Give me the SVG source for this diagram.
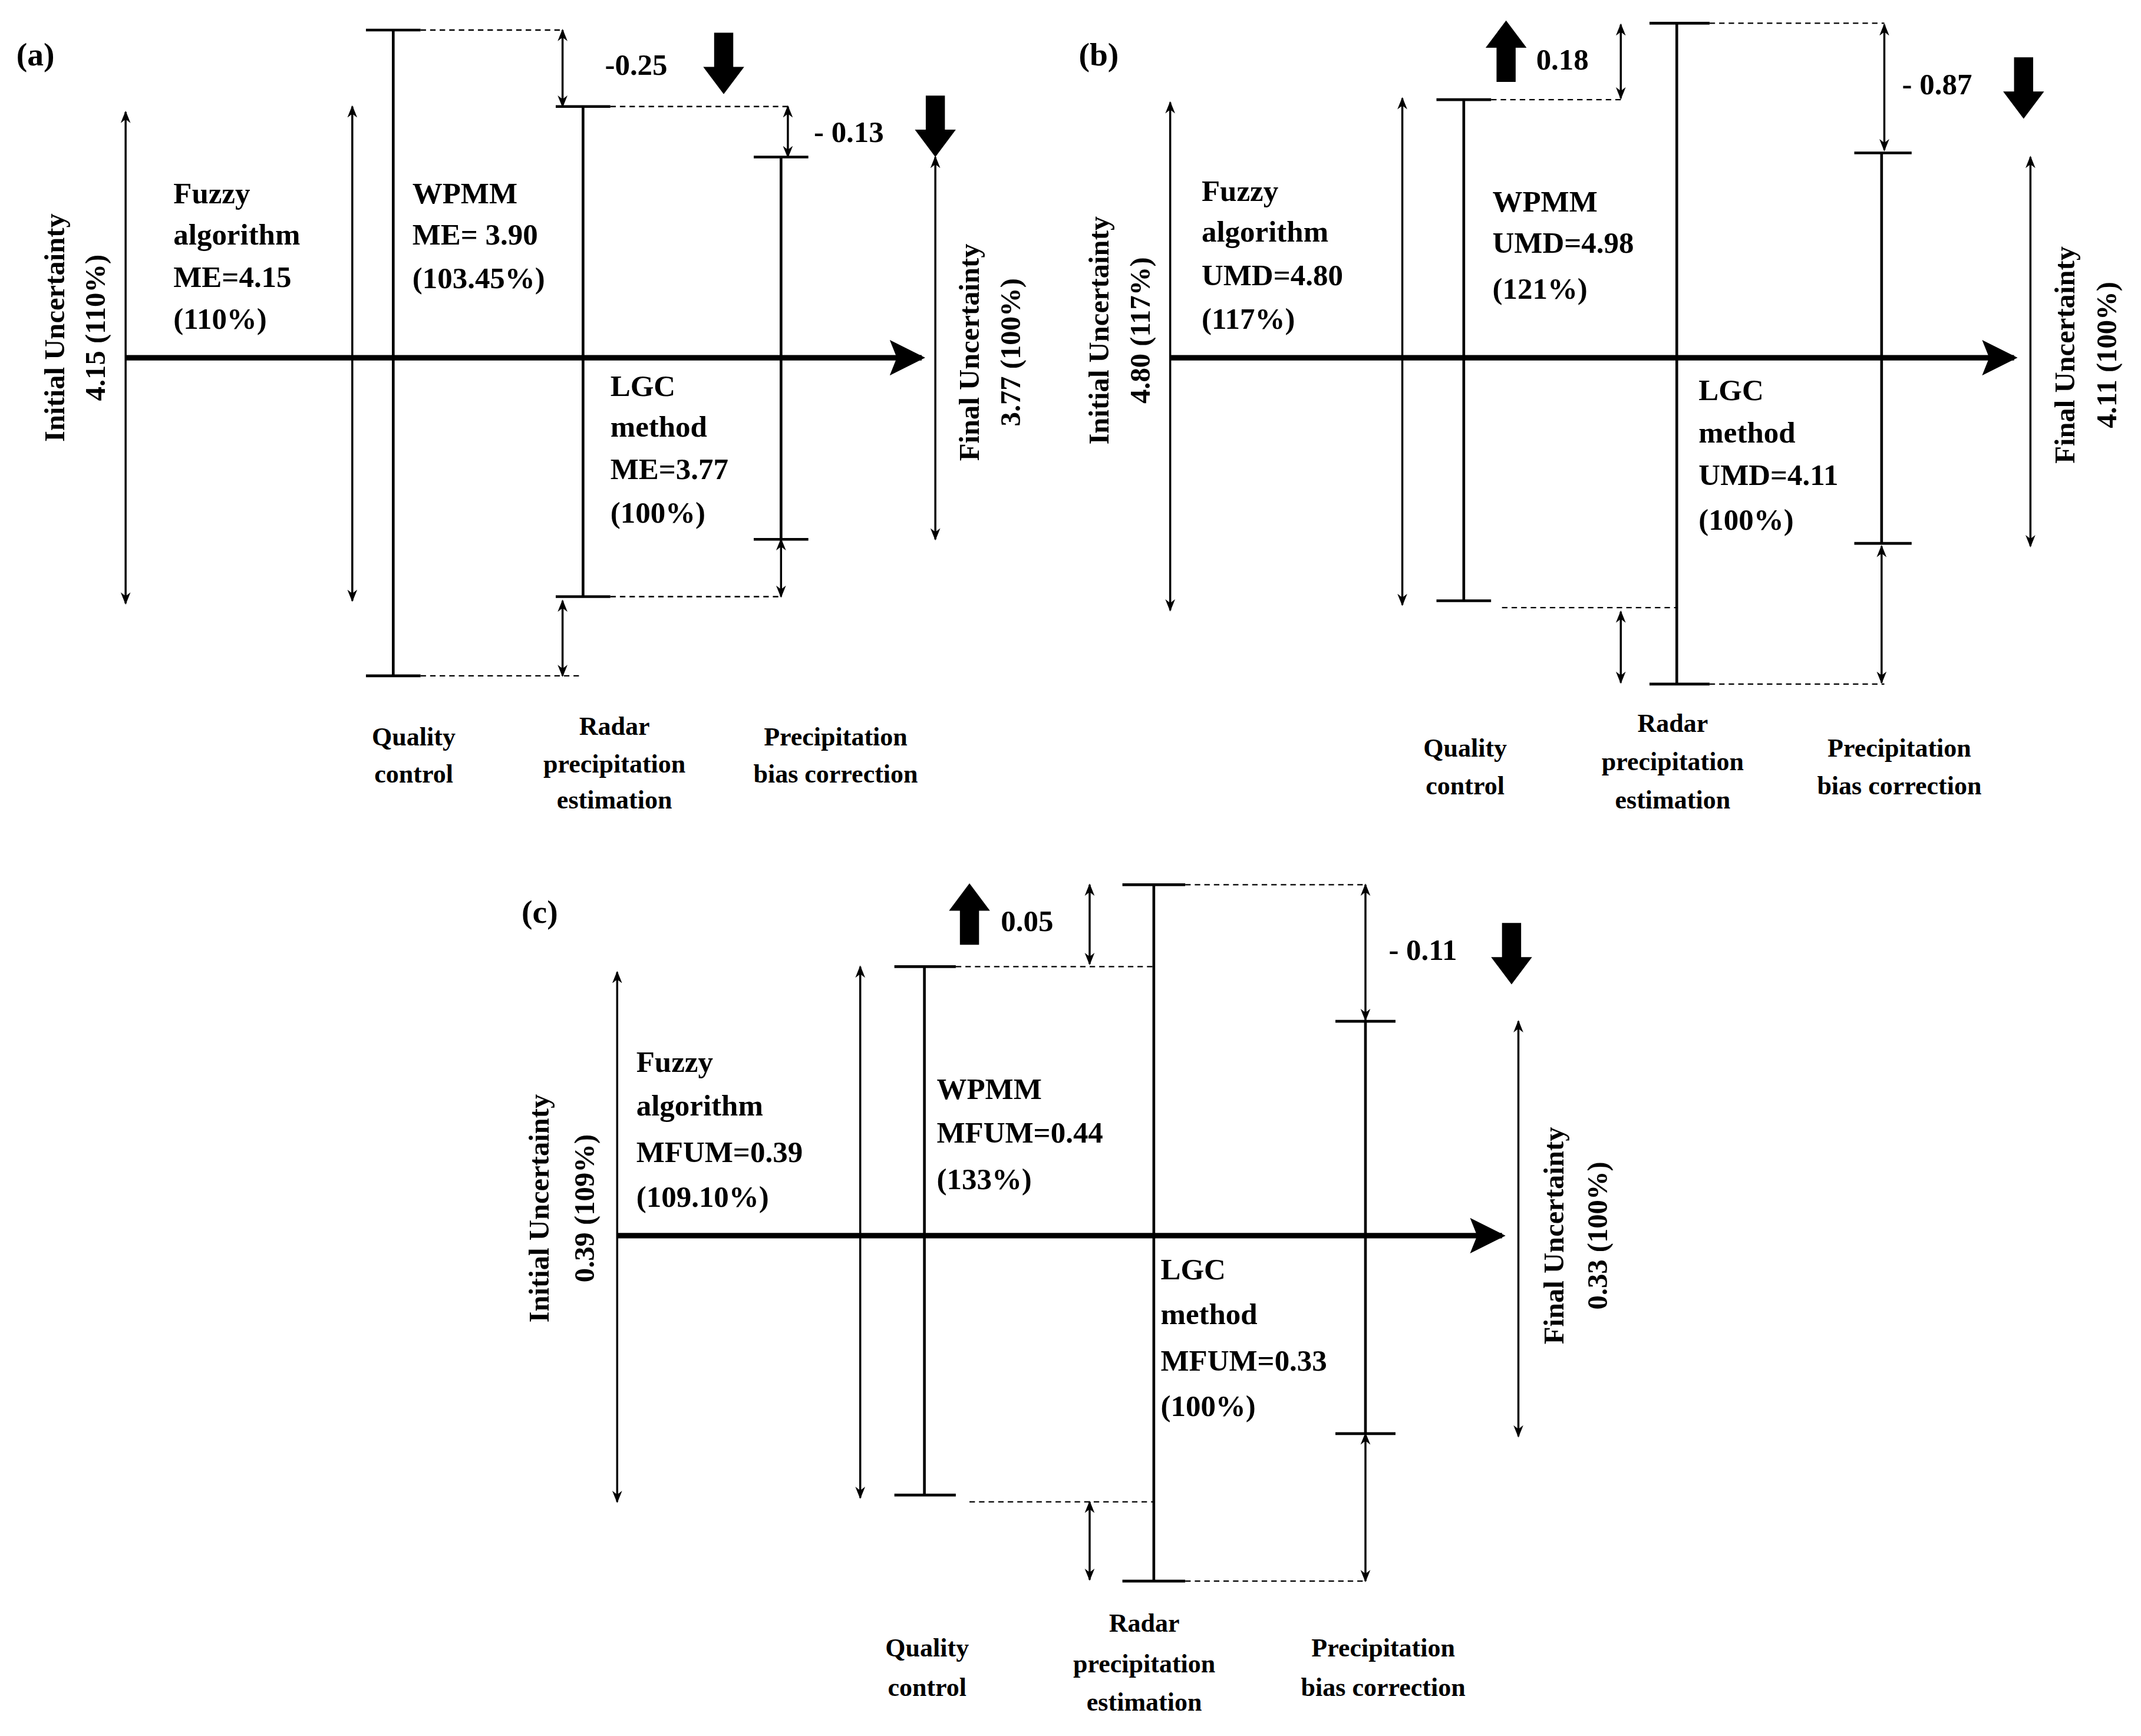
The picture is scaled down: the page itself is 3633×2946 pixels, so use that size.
<svg xmlns="http://www.w3.org/2000/svg" width="3633" height="2946" viewBox="0 0 3633 2946">
<style>
text{font-family:"Liberation Serif","Times New Roman",serif;font-weight:bold;fill:#000}
.t{font-size:22px}
.s{font-size:19px;text-anchor:middle}
.r{font-size:21px;text-anchor:middle}
.p{font-size:24px}
.bar{stroke:#000;stroke-width:2;fill:none}
.da{stroke:#000;stroke-width:1.5;fill:none;marker-start:url(#ah);marker-end:url(#ah)}
.dash{stroke:#000;stroke-width:1;stroke-dasharray:4,3;fill:none}
.main{stroke:#000;stroke-width:4;fill:none;marker-end:url(#big)}
</style>
<defs>
<marker id="ah" viewBox="0 0 10 10" refX="9" refY="5" markerWidth="9" markerHeight="9" markerUnits="userSpaceOnUse" orient="auto-start-reverse"><path d="M0,1 L10,5 L0,9 L3,5 Z" fill="#000"/></marker>
<marker id="big" viewBox="0 0 10 10" refX="9" refY="5" markerWidth="26" markerHeight="26" markerUnits="userSpaceOnUse" orient="auto"><path d="M0,0 L10,5 L0,10 L2,5 Z" fill="#000"/></marker>
<polygon id="down" points="-7,0 7,0 7,25 15,25 0,45 -15,25 -7,25" fill="#000"/>
</defs>
<rect width="3633" height="2946" fill="#fff"/>
<g transform="scale(2.317)">
<g id="connectors">
<!-- panel a -->
<line class="da" x1="92" y1="82" x2="92" y2="442"/>
<line class="main" x1="92" y1="262" x2="675" y2="262"/>
<line class="da" x1="258" y1="78" x2="258" y2="440"/>
<line class="da" x1="412" y1="22" x2="412" y2="78"/>
<line class="da" x1="412" y1="440" x2="412" y2="495"/>
<line class="da" x1="577" y1="78" x2="577" y2="115"/>
<line class="da" x1="572" y1="395" x2="572" y2="437"/>
<line class="da" x1="685" y1="115" x2="685" y2="395"/>
<path class="dash" d="M308,22H412M308,495H425M447,78H578M447,437H570"/>
<!-- panel b -->
<line class="da" x1="857" y1="75" x2="857" y2="447"/>
<line class="main" x1="857" y1="262" x2="1475" y2="262"/>
<line class="da" x1="1027" y1="72" x2="1027" y2="443"/>
<line class="da" x1="1187" y1="18" x2="1187" y2="72"/>
<line class="da" x1="1187" y1="448" x2="1187" y2="500"/>
<line class="da" x1="1380" y1="18" x2="1380" y2="110"/>
<line class="da" x1="1378" y1="400" x2="1378" y2="500"/>
<line class="da" x1="1487" y1="115" x2="1487" y2="400"/>
<path class="dash" d="M1092,73H1187M1100,445H1228M1252,17H1380M1252,501H1380"/>
<!-- panel c -->
<line class="da" x1="452" y1="712" x2="452" y2="1100"/>
<line class="main" x1="452" y1="905" x2="1100" y2="905"/>
<line class="da" x1="630" y1="708" x2="630" y2="1097"/>
<line class="da" x1="798" y1="648" x2="798" y2="706"/>
<line class="da" x1="798" y1="1100" x2="798" y2="1157"/>
<line class="da" x1="1000" y1="648" x2="1000" y2="747"/>
<line class="da" x1="1000" y1="1050" x2="1000" y2="1158"/>
<line class="da" x1="1112" y1="748" x2="1112" y2="1052"/>
<path class="dash" d="M700,708H845M710,1100H845M868,648H1000M868,1158H1000"/>
</g>
<g id="panel-a">
<text class="p" x="12" y="48">(a)</text>
<path class="bar" d="M288,22V495M268,22H308M268,495H308M427,78V437M407,78H447M407,437H447M572,115V395M552,115H592M552,395H592"/>
<use href="#down" x="530" y="24"/>
<use href="#down" x="685" y="70"/>
<text class="t" x="443" y="55">-0.25</text>
<text class="t" x="596" y="104">- 0.13</text>
<text class="r" transform="translate(47,240) rotate(-90)">Initial Uncertainty</text>
<text class="r" transform="translate(77,240) rotate(-90)">4.15 (110%)</text>
<text class="r" transform="translate(717,258) rotate(-90)">Final Uncertainty</text>
<text class="r" transform="translate(747,258) rotate(-90)">3.77 (100%)</text>
<text class="t" x="127" y="149">Fuzzy</text><text class="t" x="127" y="179">algorithm</text><text class="t" x="127" y="210">ME=4.15</text><text class="t" x="127" y="241">(110%)</text>
<text class="t" x="302" y="149">WPMM</text><text class="t" x="302" y="179">ME= 3.90</text><text class="t" x="302" y="211">(103.45%)</text>
<text class="t" x="447" y="290">LGC</text><text class="t" x="447" y="320">method</text><text class="t" x="447" y="351">ME=3.77</text><text class="t" x="447" y="383">(100%)</text>
<text class="s" x="303" y="546">Quality</text><text class="s" x="303" y="573">control</text>
<text class="s" x="450" y="538">Radar</text><text class="s" x="450" y="566">precipitation</text><text class="s" x="450" y="592">estimation</text>
<text class="s" x="612" y="546">Precipitation</text><text class="s" x="612" y="573">bias correction</text>
</g>
<g id="panel-b">
<text class="p" x="790" y="48">(b)</text>
<path class="bar" d="M1072,73V440M1052,73H1092M1052,440H1092M1228,17V501M1208,17H1252M1208,501H1252M1378,112V398M1358,112H1400M1358,398H1400"/>
<use href="#down" transform="translate(1103,60) rotate(180)"/>
<use href="#down" x="1482" y="42"/>
<text class="t" x="1125" y="51">0.18</text>
<text class="t" x="1393" y="69">- 0.87</text>
<text class="r" transform="translate(812,242) rotate(-90)">Initial Uncertainty</text>
<text class="r" transform="translate(842,242) rotate(-90)">4.80 (117%)</text>
<text class="r" transform="translate(1519,260) rotate(-90)">Final Uncertainty</text>
<text class="r" transform="translate(1550,260) rotate(-90)">4.11 (100%)</text>
<text class="t" x="880" y="147">Fuzzy</text><text class="t" x="880" y="177">algorithm</text><text class="t" x="880" y="209">UMD=4.80</text><text class="t" x="880" y="241">(117%)</text>
<text class="t" x="1093" y="155">WPMM</text><text class="t" x="1093" y="185">UMD=4.98</text><text class="t" x="1093" y="219">(121%)</text>
<text class="t" x="1244" y="293">LGC</text><text class="t" x="1244" y="324">method</text><text class="t" x="1244" y="355">UMD=4.11</text><text class="t" x="1244" y="388">(100%)</text>
<text class="s" x="1073" y="554">Quality</text><text class="s" x="1073" y="582">control</text>
<text class="s" x="1225" y="536">Radar</text><text class="s" x="1225" y="564">precipitation</text><text class="s" x="1225" y="592">estimation</text>
<text class="s" x="1391" y="554">Precipitation</text><text class="s" x="1391" y="582">bias correction</text>
</g>
<g id="panel-c">
<text class="p" x="382" y="676">(c)</text>
<path class="bar" d="M677,708V1095M655,708H700M655,1095H700M845,648V1158M822,648H868M822,1158H868M1000,748V1050M978,748H1022M978,1050H1022"/>
<use href="#down" transform="translate(710,692) rotate(180)"/>
<use href="#down" x="1107" y="676"/>
<text class="t" x="733" y="682">0.05</text>
<text class="t" x="1017" y="703">- 0.11</text>
<text class="r" transform="translate(402,885) rotate(-90)">Initial Uncertainty</text>
<text class="r" transform="translate(435,885) rotate(-90)">0.39 (109%)</text>
<text class="r" transform="translate(1145,905) rotate(-90)">Final Uncertainty</text>
<text class="r" transform="translate(1177,905) rotate(-90)">0.33 (100%)</text>
<text class="t" x="466" y="785">Fuzzy</text><text class="t" x="466" y="817">algorithm</text><text class="t" x="466" y="851">MFUM=0.39</text><text class="t" x="466" y="884">(109.10%)</text>
<text class="t" x="686" y="805">WPMM</text><text class="t" x="686" y="837">MFUM=0.44</text><text class="t" x="686" y="871">(133%)</text>
<text class="t" x="850" y="937">LGC</text><text class="t" x="850" y="970">method</text><text class="t" x="850" y="1004">MFUM=0.33</text><text class="t" x="850" y="1037">(100%)</text>
<text class="s" x="679" y="1213">Quality</text><text class="s" x="679" y="1242">control</text>
<text class="s" x="838" y="1195">Radar</text><text class="s" x="838" y="1225">precipitation</text><text class="s" x="838" y="1253">estimation</text>
<text class="s" x="1013" y="1213">Precipitation</text><text class="s" x="1013" y="1242">bias correction</text>
</g>
</g>
</svg>
